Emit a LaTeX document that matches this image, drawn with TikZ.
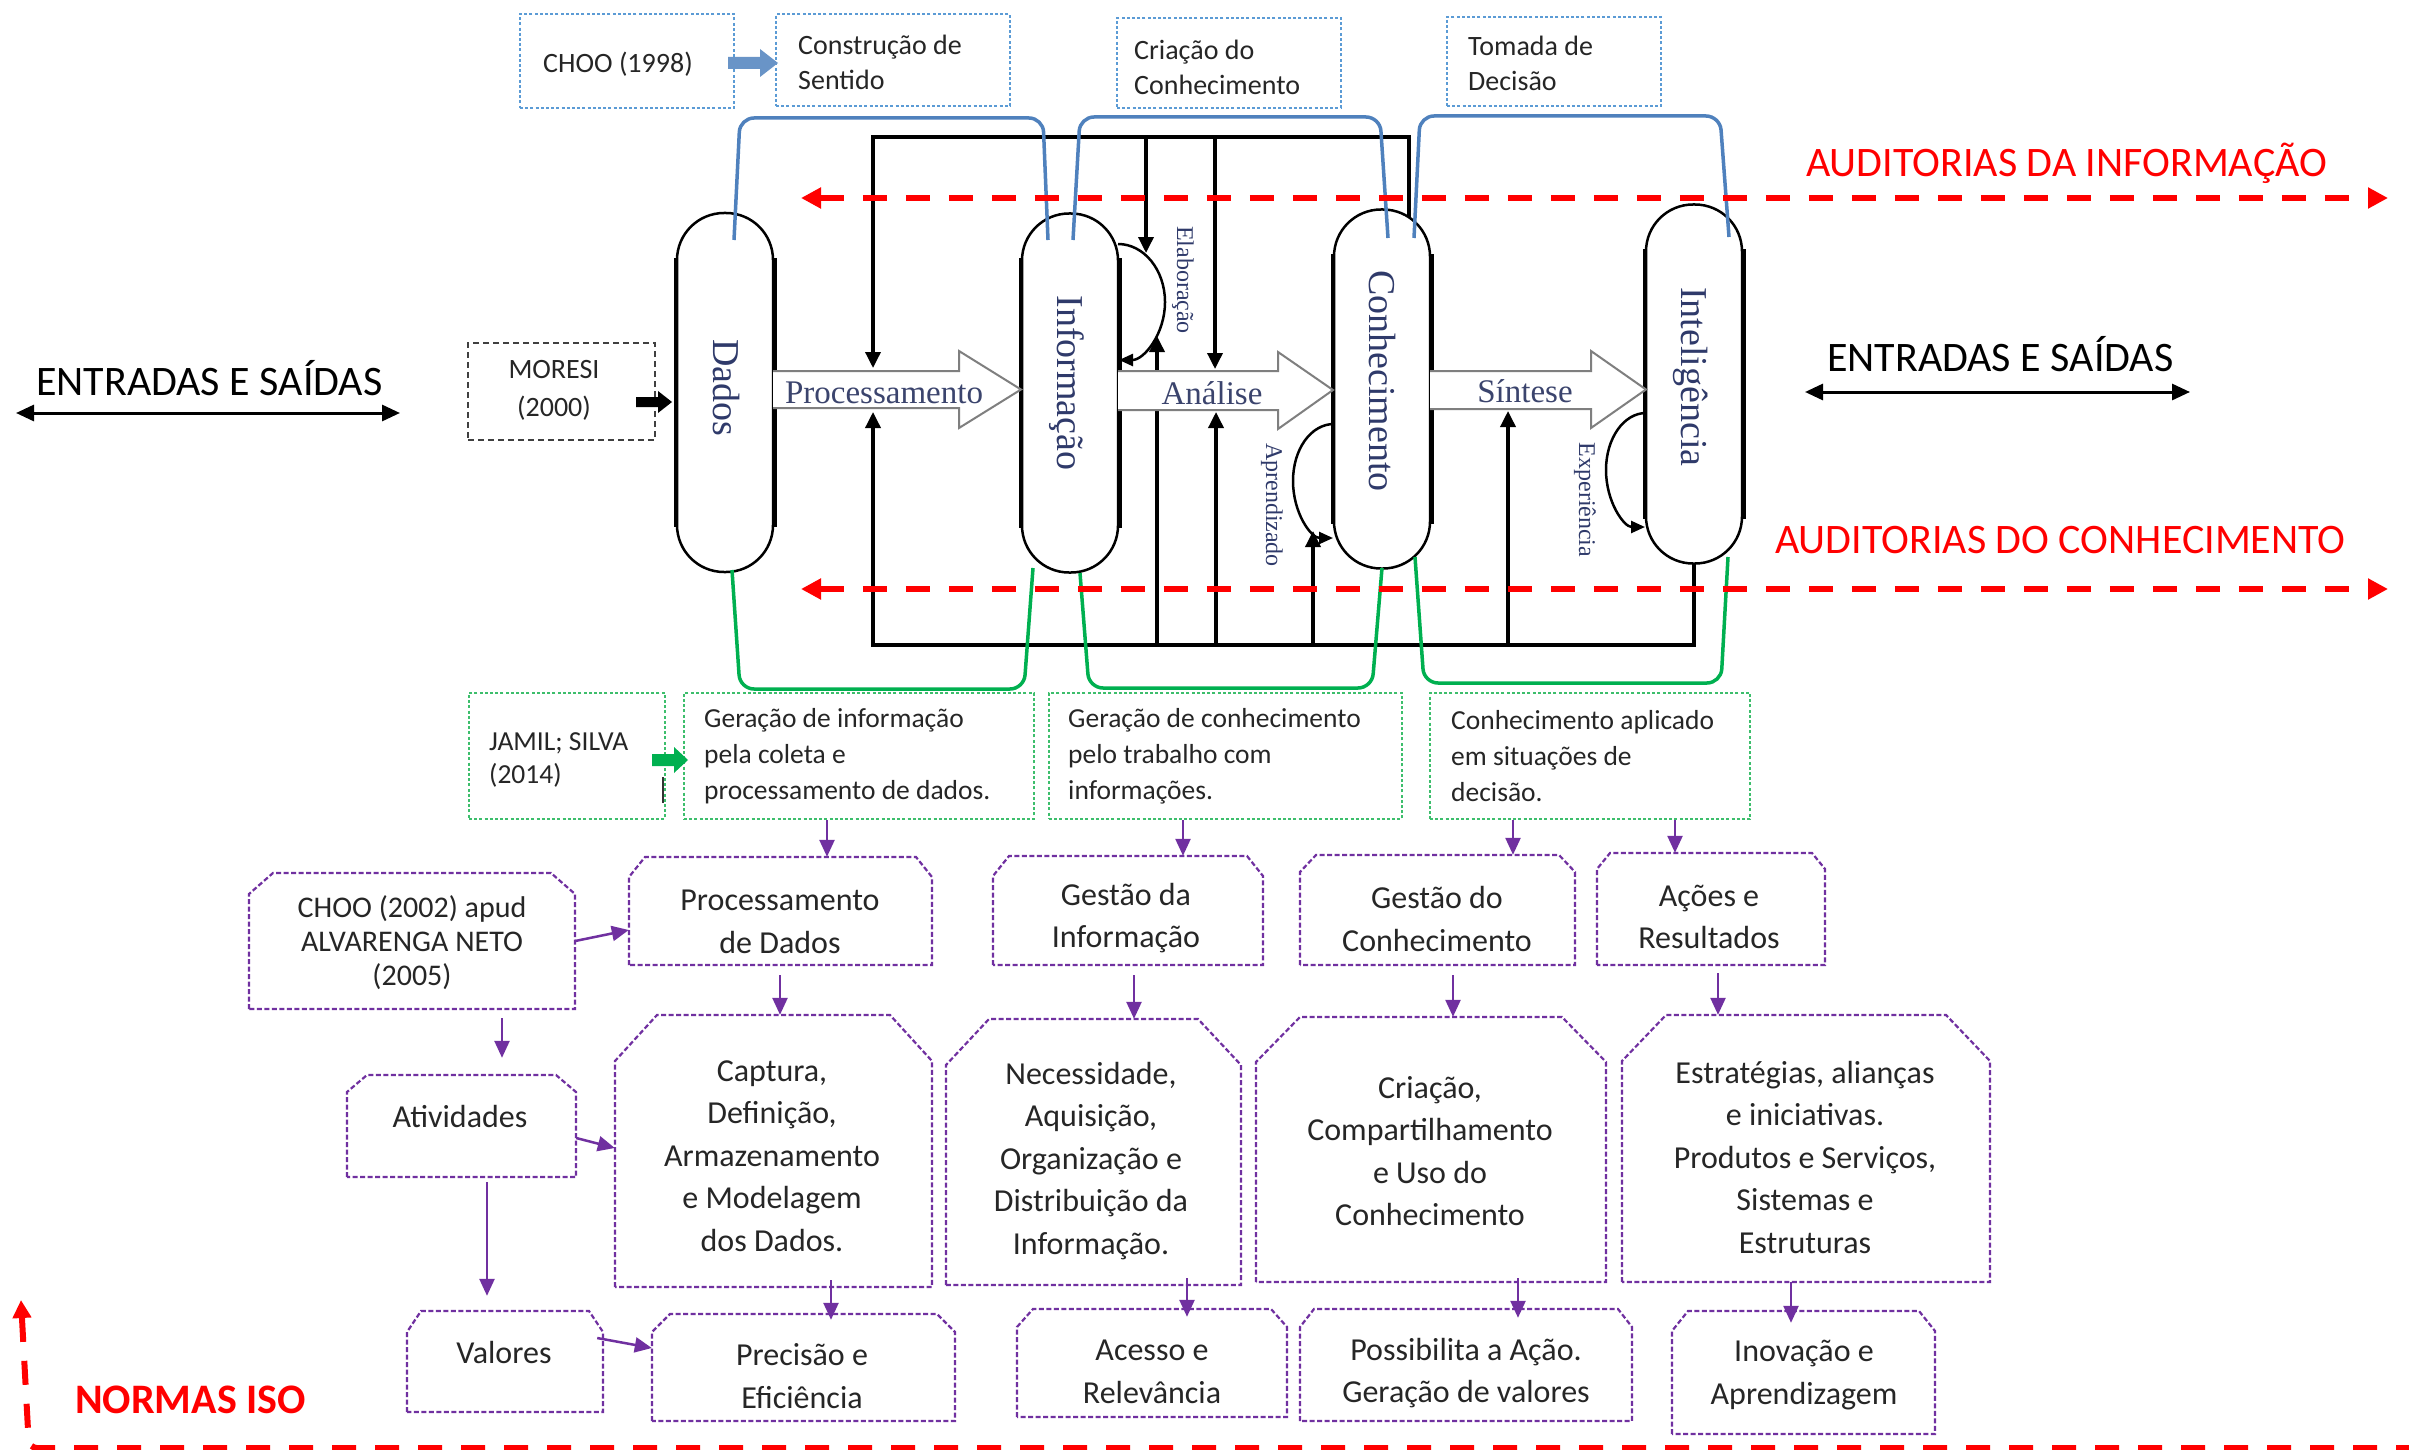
\documentclass[tikz,border=0pt]{standalone}
\usepackage{fontspec}
\setmainfont{Carlito}
\newfontfamily\capserif{Liberation Serif}
\usetikzlibrary{arrows.meta}

\definecolor{boxblue}{HTML}{5B9BD5}
\definecolor{braceblue}{HTML}{4F81BD}
\definecolor{boxgreen}{HTML}{3DBE6C}
\definecolor{bracegreen}{HTML}{00B050}
\definecolor{purp}{HTML}{7030A0}
\definecolor{navy}{HTML}{2F3A6A}
\definecolor{arrgrey}{HTML}{7F7F7F}
\definecolor{txt}{HTML}{262626}

\newcommand\fs[2]{\fontsize{#1}{#2}\selectfont}
% purple box with both upper corners snipped: name, x1, y1, x2, y2, snip-x, snip-y
\newcommand\snipbox[7]{%
  \node[inner sep=0pt, minimum width={#4-#2}, minimum height={#5-#3}] (#1) at ({(#2+#4)/2},{(#3+#5)/2}) {};
  \draw[pframe] (#2,#5) -- (#2,{#3+#7}) -- ({#2+#6},#3) -- ({#4-#6},#3) -- (#4,{#3+#7}) -- (#4,#5) -- cycle;}

\begin{document}
\begin{tikzpicture}[x=1pt, y=-1pt,
  frame/.style={draw=black, line width=3.5pt, -{Triangle[width=15pt,length=16pt]}},
  capsule/.style={draw=black, line width=2.5pt, fill=white, rounded corners=47pt, minimum width=96pt, minimum height=359pt, inner sep=0pt},
  capside/.style={draw=black, line width=4.5pt},
  hollow/.style={draw=arrgrey, line width=2pt, fill=white, line join=miter},
  arrlbl/.style={inner sep=0pt, text=navy!85!gray, font=\capserif\fs{33}{40}},
  caplbl/.style={rotate=-90, inner sep=0pt, text=navy, font=\capserif\fs{38}{46}},
  smlbl/.style={rotate=-90, inner sep=0pt, text=navy, font=\capserif\fs{24}{28}},
  loopline/.style={draw=black, line width=2.5pt, -{Triangle[width=12pt,length=14pt]}},
  bluebrace/.style={draw=braceblue, line width=3.5pt, rounded corners=14pt},
  greenbrace/.style={draw=bracegreen, line width=3.5pt, rounded corners=14pt},
  bluedot/.style={draw=boxblue, line width=2.2pt, dash pattern=on 3pt off 2.2pt, inner sep=0pt},
  greendot/.style={draw=boxgreen, line width=2.2pt, dash pattern=on 3pt off 2.2pt, inner sep=0pt},
  pframe/.style={draw=purp, line width=2.2pt, dash pattern=on 5pt off 2.5pt},
  blackdash/.style={draw=black!75, line width=2pt, dash pattern=on 6pt off 4pt, inner sep=0pt},
  smalltxt/.style={inner sep=0pt, text=txt, font=\fs{28}{35}, align=left},
  greentxt/.style={inner sep=0pt, text=txt, font=\fs{27.5}{36}, align=left},
  ptxt/.style={inner sep=0pt, text=txt, font=\fs{32}{42.5}, align=center},
  parrow/.style={draw=purp, line width=2.5pt, -{Triangle[width=15pt,length=17pt]}},
  reddash/.style={draw=red, line width=6pt, dash pattern=on 24pt off 19pt},
  bigtxt/.style={inner sep=0pt, font=\fs{42}{50}, text=black},
  redtxt/.style={inner sep=0pt, font=\fs{42}{50}, text=red},
  dbl/.style={draw=black, line width=3pt, {Triangle[width=16pt,length=18pt]}-{Triangle[width=16pt,length=18pt]}}
]
\useasboundingbox (0,0) rectangle (2409,1450);
\fill[white] (0,0) rectangle (2409,1450);

% ---------- feedback frame ----------
\draw[frame] (1409,219) -- (1409,137) -- (873,137) -- (873,368);
\draw[frame] (1146,137) -- (1146,253);
\draw[frame] (1215,137) -- (1215,369);
\draw[frame] (1694,563) -- (1694,645) -- (873,645) -- (873,412);
\draw[frame] (1157,645) -- (1157,336);
\draw[frame] (1216,645) -- (1216,412);
\draw[frame] (1313,645) -- (1313,531);
\draw[frame] (1508,645) -- (1508,411);

% ---------- capsules ----------
\node[capsule] (dados) at (725,392.5) {};
\node[capsule] (info) at (1070,393) {};
\node[capsule] (conh) at (1382,389) {};
\node[capsule] (intel) at (1694,384) {};
\foreach \c in {dados,info,conh,intel}{
  \draw[capside] ([yshift=-46pt]\c.north west) -- ([yshift=46pt]\c.south west);
  \draw[capside] ([yshift=-46pt]\c.north east) -- ([yshift=46pt]\c.south east);
}

% ---------- hollow process arrows ----------
\filldraw[hollow] (773,371) -- (959,371) -- (959,351) -- (1021,389.5) -- (959,428) -- (959,408) -- (773,408);
\filldraw[hollow] (1118,371) -- (1278,371) -- (1278,352) -- (1333,390) -- (1278,429) -- (1278,410) -- (1118,410);
\filldraw[hollow] (1430,371) -- (1591,371) -- (1591,351) -- (1646,389.5) -- (1591,428) -- (1591,409) -- (1430,409);
\node[arrlbl, anchor=base] (lbl-proc) at (884,403) {Processamento};
\node[arrlbl, anchor=base] (lbl-anal) at (1212,404) {Análise};
\node[arrlbl, anchor=base] (lbl-sint) at (1525,402) {Síntese};

\node[caplbl] (dados-t) at (726,388) {Dados};
\node[caplbl] (info-t) at (1067,383) {Informação};
\node[caplbl] (conh-t) at (1382,381) {Conhecimento};
\node[caplbl] (intel-t) at (1691,377) {Inteligência};

% ---------- learning loops ----------
\draw[loopline] (1118,244) .. controls (1144,244) and (1165,270) .. (1165,302)
                 .. controls (1165,334) and (1144,360) .. (1119,360);
\draw[loopline] (1334,424) .. controls (1311,424) and (1293,449) .. (1293,481)
                 .. controls (1293,513) and (1311,538) .. (1333,538);
\draw[loopline] (1646,413) .. controls (1624,413) and (1606,438) .. (1606,470)
                 .. controls (1606,502) and (1624,527) .. (1645,527);
\node[smlbl] (elab-t) at (1183,280) {Elaboração};
\node[smlbl] (apr-t) at (1272,505) {Aprendizado};
\node[smlbl] (exp-t) at (1585,500) {Experiência};

% ---------- blue and green brackets ----------
\draw[bluebrace] (734,240) -- (740,118) -- (1043,118) -- (1048,240);
\draw[bluebrace] (1073,240) -- (1080,117) -- (1380,117) -- (1388,238);
\draw[bluebrace] (1414,238) -- (1420,116) -- (1720,116) -- (1729,237);
\draw[greenbrace] (732,570) -- (740,689) -- (1024,689) -- (1033,568);
\draw[greenbrace] (1080,573) -- (1089,688) -- (1372,688) -- (1382,568);
\draw[greenbrace] (1415,557) -- (1424,683) -- (1721,683) -- (1728,557);

% ---------- CHOO (1998) row ----------
\node[bluedot, minimum width=214pt, minimum height=94pt] (choo98) at (627,61) {};
\node[bluedot, minimum width=234pt, minimum height=92pt] (constr) at (893,60) {};
\node[bluedot, minimum width=224pt, minimum height=90pt] (criacao) at (1229,63) {};
\node[bluedot, minimum width=214pt, minimum height=89pt] (tomada) at (1554,61.5) {};
\node[smalltxt] (choo98-t) at (618,64) {CHOO (1998)};
\node[smalltxt, anchor=west] (constr-t) at (798,62) {Construção de\\Sentido};
\node[smalltxt, anchor=west] (criacao-t) at (1134,67) {Criação do\\Conhecimento};
\node[smalltxt, anchor=west] (tomada-t) at (1468,63) {Tomada de\\Decisão};
\fill[braceblue!85!white] (728,57) -- (760,57) -- (760,49) -- (778,63) -- (760,77) -- (760,69) -- (728,69) -- cycle;

% ---------- MORESI ----------
\node[blackdash, minimum width=187pt, minimum height=97pt] (moresi) at (561.5,391.5) {};
\node[smalltxt, align=center, font=\fs{28}{38}] (moresi-t) at (554,390) {MORESI\\(2000)};
\fill[black] (636,397) -- (658,397) -- (658,391) -- (672,402) -- (658,413) -- (658,407) -- (636,407) -- cycle;

% ---------- ENTRADAS E SAÍDAS ----------
\node[bigtxt, anchor=base west] (es-left) at (36,395) {ENTRADAS E SAÍDAS};
\node[bigtxt, anchor=base west] (es-right) at (1827,371) {ENTRADAS E SAÍDAS};
\coordinate (esl-a) at (16,413);
\coordinate (esl-b) at (400,413);
\coordinate (esr-a) at (1805,392);
\coordinate (esr-b) at (2190,392);
\draw[dbl] (esl-a) -- (esl-b);
\draw[dbl] (esr-a) -- (esr-b);

% ---------- JAMIL; SILVA row ----------
\node[greendot, minimum width=196pt, minimum height=126pt] (jamil) at (567,756) {};
\node[greendot, minimum width=350pt, minimum height=126pt] (ger1) at (859,756) {};
\node[greendot, minimum width=353pt, minimum height=126pt] (ger2) at (1225.5,756) {};
\node[greendot, minimum width=320pt, minimum height=126pt] (ger3) at (1590,756) {};
\node[greentxt, anchor=west, font=\fs{27.5}{33}] (jamil-t) at (489,760) {JAMIL; SILVA\\(2014)};
\node[greentxt, anchor=west] (ger1-t) at (704,756) {Geração de informação\\pela coleta e\\processamento de dados.};
\node[greentxt, anchor=west] (ger2-t) at (1068,756) {Geração de conhecimento\\pelo trabalho com\\informações.};
\node[greentxt, anchor=west] (ger3-t) at (1451,756) {Conhecimento aplicado\\em situações de\\decisão.};
\fill[bracegreen] (652,754) -- (674,754) -- (674,747) -- (688,760) -- (674,773) -- (674,766) -- (652,766) -- cycle;
\draw[black!80, line width=1.5pt] (663,777) -- (663,803);

% ---------- CHOO (2002) apud ALVARENGA NETO (2005) ----------
\snipbox{choo02}{249}{873}{575}{1009}{24}{21}
\snipbox{procd}{629}{857}{932}{965}{16}{20}
\snipbox{gesti}{993}{856}{1263}{965}{16}{20}
\snipbox{gestc}{1300}{855}{1575}{965}{16}{17}
\snipbox{acoes}{1597}{853}{1825}{965}{13}{16}
\snipbox{ativ}{347}{1075}{576}{1177}{20}{17}
\snipbox{captura}{615}{1015}{932}{1287}{42}{46}
\snipbox{necess}{946}{1019}{1241}{1285}{43}{46}
\snipbox{criac}{1256}{1017}{1606}{1282}{44}{45}
\snipbox{estrat}{1622}{1015}{1990}{1282}{44}{46}
\snipbox{valores}{407}{1311}{603}{1412}{14}{21}
\snipbox{precis}{652}{1314}{955}{1421}{18}{18}
\snipbox{acesso}{1017}{1309}{1287}{1417}{16}{18}
\snipbox{possib}{1300}{1309}{1632}{1421}{14}{18}
\snipbox{inov}{1672}{1311}{1935}{1434}{16}{20}

\node[ptxt, font=\fs{30}{34}] (choo02-t) at (412,943) {CHOO (2002) apud\\ALVARENGA NETO\\(2005)};
\node[ptxt] (procd-t) at (780,922) {Processamento\\de Dados};
\node[ptxt] (gesti-t) at (1126,918) {Gestão da\\Informação};
\node[ptxt] (gestc-t) at (1437,919) {Gestão do\\Conhecimento};
\node[ptxt] (acoes-t) at (1709,917) {Ações e\\Resultados};
\node[ptxt] (ativ-t) at (460,1116) {Atividades};
\node[ptxt] (captura-t) at (772,1156) {Captura,\\Definição,\\Armazenamento\\e Modelagem\\dos Dados.};
\node[ptxt] (necess-t) at (1091,1161) {Necessidade,\\Aquisição,\\Organização e\\Distribuição da\\Informação.};
\node[ptxt] (criac-t) at (1430,1151) {Criação,\\Compartilhamento\\e Uso do\\Conhecimento};
\node[ptxt] (estrat-t) at (1805,1157) {Estratégias, alianças\\e iniciativas.\\Produtos e Serviços,\\Sistemas e\\Estruturas};
\node[ptxt] (valores-t) at (504,1352) {Valores};
\node[ptxt] (precis-t) at (802,1376) {Precisão e\\Eficiência};
\node[ptxt] (acesso-t) at (1152,1372) {Acesso e\\Relevância};
\node[ptxt] (possib-t) at (1466,1373) {Possibilita a Ação.\\Geração de valores};
\node[ptxt] (inov-t) at (1804,1375) {Inovação e\\Aprendizagem};

% ---------- purple connectors ----------
\coordinate (x827) at (827,0);
\coordinate (x1183) at (1183,0);
\coordinate (x1513) at (1513,0);
\coordinate (x1675) at (1675,0);
\coordinate (x502) at (502,0);
\coordinate (x780) at (780,0);
\coordinate (x1134) at (1134,0);
\coordinate (x1453) at (1453,0);
\coordinate (x1718) at (1718,0);
\coordinate (x487) at (487,0);
\coordinate (x831) at (831,0);
\coordinate (x1187) at (1187,0);
\coordinate (x1518) at (1518,0);
\coordinate (x1791) at (1791,0);
\draw[parrow] (ger1.south -| x827) -- (procd.north -| x827);
\draw[parrow] (ger2.south -| x1183) -- (gesti.north -| x1183);
\draw[parrow] (ger3.south -| x1513) -- (gestc.north -| x1513);
\draw[parrow] (ger3.south -| x1675) -- (acoes.north -| x1675);
\draw[parrow, shorten <=9pt, shorten >=17pt] (choo02.south -| x502) -- (ativ.north -| x502);
\draw[parrow, shorten <=10pt] (procd.south -| x780) -- (captura.north -| x780);
\draw[parrow, shorten <=10pt] (gesti.south -| x1134) -- (necess.north -| x1134);
\draw[parrow, shorten <=10pt] (gestc.south -| x1453) -- (criac.north -| x1453);
\draw[parrow, shorten <=8pt] (acoes.south -| x1718) -- (estrat.north -| x1718);
\draw[parrow, shorten <=5pt, shorten >=15pt] (ativ.south -| x487) -- (valores.north -| x487);
\draw[parrow, shorten <=-7pt, shorten >=-6pt] (captura.south -| x831) -- (precis.north -| x831);
\draw[parrow, shorten <=-7pt, shorten >=-8pt] (necess.south -| x1187) -- (acesso.north -| x1187);
\draw[parrow, shorten <=-4pt, shorten >=-9pt] (criac.south -| x1518) -- (possib.north -| x1518);
\draw[parrow, shorten >=-12pt] (estrat.south -| x1791) -- (inov.north -| x1791);
\draw[parrow] (choo02.east) -- ([yshift=-19pt]procd.west);
\draw[parrow] ([yshift=-12pt]ativ.east) -- ([yshift=3pt]captura.west);
\draw[parrow] ([yshift=23.5pt,xshift=-6pt]valores.east) -- ([yshift=19.5pt]precis.west);

% ---------- audits and ISO standards ----------
\coordinate (ai-l) at (801,198);
\coordinate (ai-r) at (2388,198);
\coordinate (ac-l) at (801,589);
\coordinate (ac-r) at (2388,589);
\draw[reddash, {Triangle[width=20pt,length=20pt]}-{Triangle[width=20pt,length=20pt]}] (ai-l) -- (ai-r);
\draw[reddash, {Triangle[width=20pt,length=20pt]}-{Triangle[width=20pt,length=20pt]}] (ac-l) -- (ac-r);
\node[redtxt, anchor=base west] (aud-info) at (1806,177) {AUDITORIAS DA INFORMAÇÃO};
\node[redtxt, anchor=base west] (aud-conh) at (1775,553) {AUDITORIAS DO CONHECIMENTO};
\coordinate (iso-a) at (2420,1448);
\coordinate (iso-c) at (29,1448);
\coordinate (iso-b) at (21,1300);
\draw[reddash, rounded corners=8pt, -{Triangle[width=18pt,length=18pt]}] (iso-a) -- (iso-c) -- (iso-b);
\node[redtxt, font=\bfseries\fs{42}{50}, anchor=base west] (iso) at (75,1413) {NORMAS ISO};
\end{tikzpicture}
\end{document}
